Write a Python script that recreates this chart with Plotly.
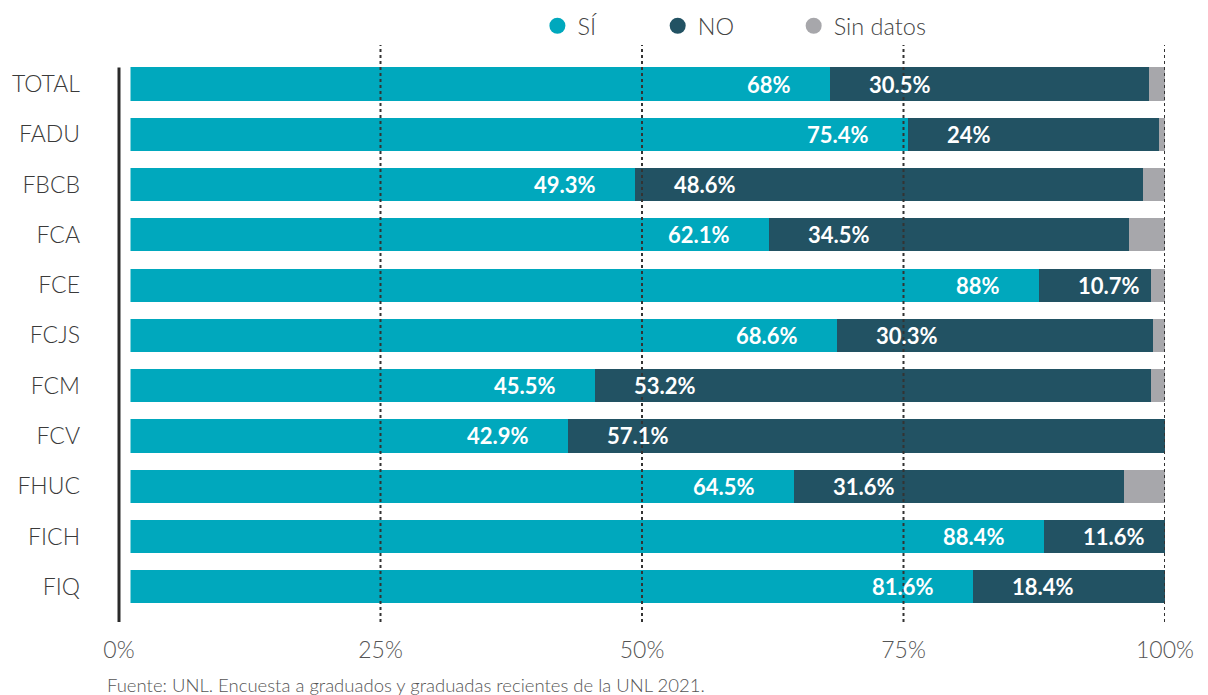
import plotly.graph_objects as go

categories = ["TOTAL", "FADU", "FBCB", "FCA", "FCE", "FCJS", "FCM", "FCV", "FHUC", "FICH", "FIQ"]
si = [68, 75.4, 49.3, 62.1, 88, 68.6, 45.5, 42.9, 64.5, 88.4, 81.6]
no = [30.5, 24, 48.6, 34.5, 10.7, 30.3, 53.2, 57.1, 31.6, 11.6, 18.4]
sin_datos = [1.5, 0.6, 2.1, 3.4, 1.3, 1.1, 1.3, 0, 3.9, 0, 0]
tick_vals = [0, 25, 50, 75, 100]
tick_text = ["0%", "25%", "50%", "75%", "100%"]

C_SI = "#00A8BD"
C_NO = "#225263"
C_SD = "#A7A7AB"
FONT = "Lato"
BAR_W = 0.66

# legend symbol positions (paper fraction) for each series
legend_x = [0.400, 0.515, 0.645]
legend_ids = ["legend", "legend2", "legend3"]

def fmt(v):
    return (f"{v:g}") + "%"

fig = go.Figure()
series = [("SÍ", si, C_SI), ("NO", no, C_NO), ("Sin datos", sin_datos, C_SD)]
for (name, vals, col), lid in zip(series, legend_ids):
    fig.add_trace(go.Bar(y=categories, x=vals, orientation="h", marker=dict(color=col, line=dict(width=0)),
                         width=BAR_W, showlegend=False, hoverinfo="x+y", name=name))
    fig.add_trace(go.Scatter(x=[None], y=[None], mode="markers", name=name, legend=lid,
                             marker=dict(color=col, size=18, symbol="circle")))

annotations = []
for c, s, n in zip(categories, si, no):
    annotations.append(dict(x=s, y=c, xref="x", yref="y", text=fmt(s), showarrow=False,
                            xanchor="right", xshift=-37, font=dict(family=FONT, size=22, color="white", weight=700)))
    annotations.append(dict(x=s, y=c, xref="x", yref="y", text=fmt(n), showarrow=False,
                            xanchor="left", xshift=37, font=dict(family=FONT, size=22, color="white", weight=700)))
annotations.append(dict(x=-0.0134, y=-0.109, xref="paper", yref="paper",
                        text="Fuente: UNL. Encuesta a graduados y graduadas recientes de la UNL 2021.",
                        showarrow=False, xanchor="left", yanchor="middle",
                        font=dict(family=FONT, size=18.5, color="#555555", weight=300)))

shapes = []
# white gap at start of bars
shapes.append(dict(type="rect", xref="x", yref="paper", x0=0, x1=1.1, y0=0, y1=1,
                   fillcolor="white", line=dict(width=0), layer="above"))
for v in tick_vals[1:]:
    shapes.append(dict(type="line", xref="x", yref="paper", x0=v, x1=v, y0=0, y1=1,
                       line=dict(color="#333333", width=2, dash="dot"), layer="above"))
shapes.append(dict(type="line", xref="paper", yref="y", x0=0, x1=0, y0=-BAR_W / 2, y1=10.70,
                   line=dict(color="#2a2a2a", width=3), layer="above"))

legend_common = dict(orientation="h", xanchor="left", y=1.033, yanchor="middle",
                     font=dict(family=FONT, size=23.5, color="#444444", weight=300),
                     itemwidth=30, bgcolor="rgba(0,0,0,0)")
legends = {lid: dict(legend_common, x=lx) for lid, lx in zip(legend_ids, legend_x)}

fig.update_layout(
    barmode="stack",
    width=1208, height=695,
    margin=dict(l=119, r=43, t=45, b=73, autoexpand=False),
    plot_bgcolor="white", paper_bgcolor="white",
    font=dict(family=FONT, size=20, color="#444444"),
    xaxis=dict(range=[0, 100], tickvals=tick_vals, ticktext=tick_text, showgrid=False,
               zeroline=False, showline=False, ticks="", ticklabelstandoff=12,
               tickfont=dict(family=FONT, size=23, color="#555555", weight=300), fixedrange=True),
    yaxis=dict(categoryorder="array", categoryarray=categories, range=[10.70, -0.776],
               showgrid=False, zeroline=False, showline=False, ticks="", ticklabelstandoff=38,
               tickfont=dict(family=FONT, size=23, color="#3a3a3a", weight=300)),
    annotations=annotations,
    shapes=shapes,
    **legends,
)

fig.write_html("out.html", post_script="document.body.style.margin='0';",
               config={"displayModeBar": False})
